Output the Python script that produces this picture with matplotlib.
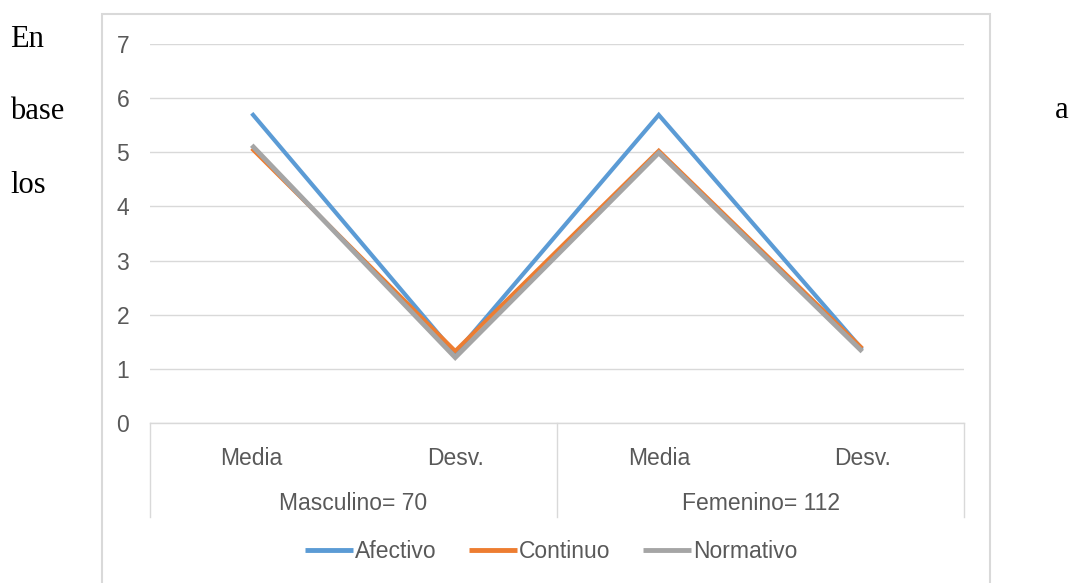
import matplotlib
matplotlib.use("Agg")
import matplotlib.pyplot as plt
import matplotlib.transforms as mtransforms
from matplotlib.patches import Rectangle
from matplotlib import font_manager

# --- data -------------------------------------------------------------
categories = ["Media", "Desv.", "Media", "Desv."]
groups = ["Masculino= 70", "Femenino= 112"]
afectivo = [5.72, 1.28, 5.69, 1.36]
continuo = [5.07, 1.33, 5.03, 1.38]
normativo = [5.13, 1.21, 4.99, 1.32]
series_names = ["Afectivo", "Continuo", "Normativo"]
y_ticks = [0, 1, 2, 3, 4, 5, 6, 7]

colors = ["#5B9BD5", "#ED7D31", "#A5A5A5"]
widths = [3.0, 2.9, 3.5]
text_gray = "#595959"
grid_gray = "#D9D9D9"

available = {f.name for f in font_manager.fontManager.ttflist}
sans = "Liberation Sans Narrow" if "Liberation Sans Narrow" in available else "Liberation Sans"
plt.rcParams["font.family"] = [sans, "DejaVu Sans"]

W, H = 1078, 583
fig = plt.figure(figsize=(W / 100, H / 100), dpi=100)
fig.patch.set_facecolor("white")

# plot area in pixel terms
left, right, top, bottom = 150, 964, 44, 423
ax = fig.add_axes([left / W, 1 - bottom / H, (right - left) / W, (bottom - top) / H])

x = list(range(len(categories)))
for vals, name, c, lw in zip([afectivo, continuo, normativo], series_names, colors, widths):
    ax.plot(x, vals, color=c, lw=lw, label=name, solid_joinstyle="miter",
            solid_capstyle="butt")

ax.set_xlim(-0.5, len(categories) - 0.5)
ax.set_ylim(0, 7)
ax.set_yticks(y_ticks)
ax.set_yticklabels([str(v) for v in y_ticks])
ax.grid(axis="y", color=grid_gray, lw=1.0)
ax.set_axisbelow(True)
for s in ["top", "right", "left"]:
    ax.spines[s].set_visible(False)
ax.spines["bottom"].set_color(grid_gray)
ax.spines["bottom"].set_linewidth(1.0)
ax.tick_params(axis="y", length=0, pad=15, labelsize=16.5, labelcolor=text_gray)
ax.set_xticks(x)
ax.set_xticklabels(categories)
ax.tick_params(axis="x", length=0, pad=17, labelsize=16.5, labelcolor=text_gray)

# multi-level category axis: separators and group labels
trans = mtransforms.blended_transform_factory(ax.transData, ax.transAxes)
sep_depth = -(517 - bottom) / (bottom - top)
per_group = len(categories) // len(groups)
for b in range(len(groups) + 1):
    xb = b * per_group - 0.5
    ax.plot([xb, xb], [0, sep_depth], transform=trans, color=grid_gray,
            lw=1.0, clip_on=False)
for g, label in enumerate(groups):
    xc = sum(x[g * per_group:(g + 1) * per_group]) / per_group
    ax.text(xc, -(503 - bottom) / (bottom - top), label, transform=trans,
            ha="center", va="center", fontsize=16.5, color=text_gray)

# legend
fig.legend(loc="center", bbox_to_anchor=(551 / W, 1 - 552 / H), ncol=3,
           frameon=False, fontsize=16.5, labelcolor=text_gray,
           handlelength=2.1, handletextpad=0.1, columnspacing=1.4)
for line in fig.legends[0].get_lines():
    line.set_linewidth(3.5)

# chart border
fig.patches.append(Rectangle((102 / W, -0.02), (990 - 102) / W, 1 - 14 / H + 0.02,
                             transform=fig.transFigure, fill=False,
                             edgecolor=grid_gray, lw=1.5))

# surrounding document text
serif = dict(family=["Liberation Serif", "DejaVu Serif"], fontsize=22,
             color="black", va="baseline")
fig.text(10 / W, 1 - 47 / H, "En", ha="left", **serif)
fig.text(10 / W, 1 - 119 / H, "base", ha="left", **serif)
fig.text(10 / W, 1 - 193 / H, "los", ha="left", **serif)
fig.text(1055 / W, 1 - 118 / H, "a", ha="left", **serif)

fig.savefig("out.png", dpi=100, facecolor="white")
